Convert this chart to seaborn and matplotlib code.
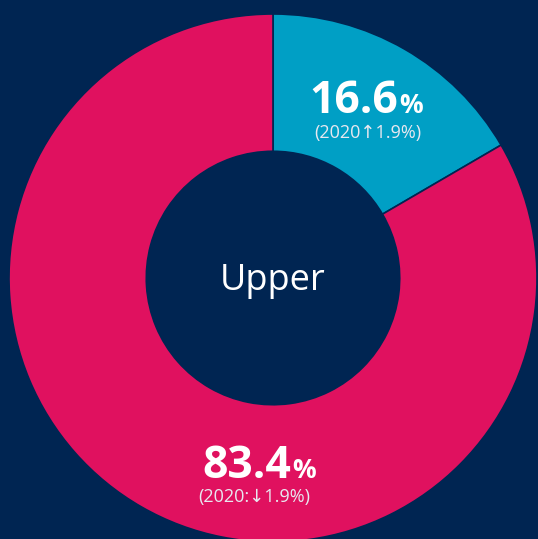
import matplotlib.pyplot as plt
import seaborn as sns

# data
segments = ['Other', 'Main']
shares = [16.6, 83.4]
notes = ['(2020\u21911.9%)', '(2020:\u21931.9%)']
center_label = 'Upper'

bg = '#002552'
colors = ['#009FC5', '#E0115F']

sns.set_theme(style='white')
plt.rcParams['font.family'] = ['Open Sans', 'DejaVu Sans']

fig = plt.figure(figsize=(5.38, 5.39), dpi=100, facecolor=bg)
# donut centre at (273, 278) px, radius 264 px
ax = fig.add_axes([(273 - 264) / 538, (539 - 278 - 264) / 539, 528 / 538, 528 / 539])
ax.set_facecolor(bg)

wedges, _ = ax.pie(shares, colors=colors, startangle=90, counterclock=False,
                   radius=1, wedgeprops=dict(width=0.52, edgecolor=bg, linewidth=1.2))
for w in wedges:
    w.set_clip_on(False)
ax.set_xlim(-1, 1)
ax.set_ylim(-1, 1)
ax.set_aspect('equal')
ax.axis('off')

# label layout: (split x, big baseline, note x, note baseline)
layout = [(0.473, 0.625, 0.36, 0.532), (0.068, -0.758, -0.07, -0.85)]
for val, note, (sx, by, nx, ny) in zip(shares, notes, layout):
    ax.text(sx, by, f'{val:.1f}', ha='right', va='baseline', color='white',
            fontsize=32, fontweight='bold')
    ax.text(sx + 0.006, by, '%', ha='left', va='baseline', color='white',
            fontsize=19, fontweight='bold')
    ax.text(nx, ny, note, ha='center', va='baseline', color='#E8E8F0', fontsize=13)

ax.text(0, -0.045, center_label, ha='center', va='baseline', color='white',
        fontsize=26, fontweight='medium')

fig.savefig('out.png', dpi=100, facecolor=bg)
